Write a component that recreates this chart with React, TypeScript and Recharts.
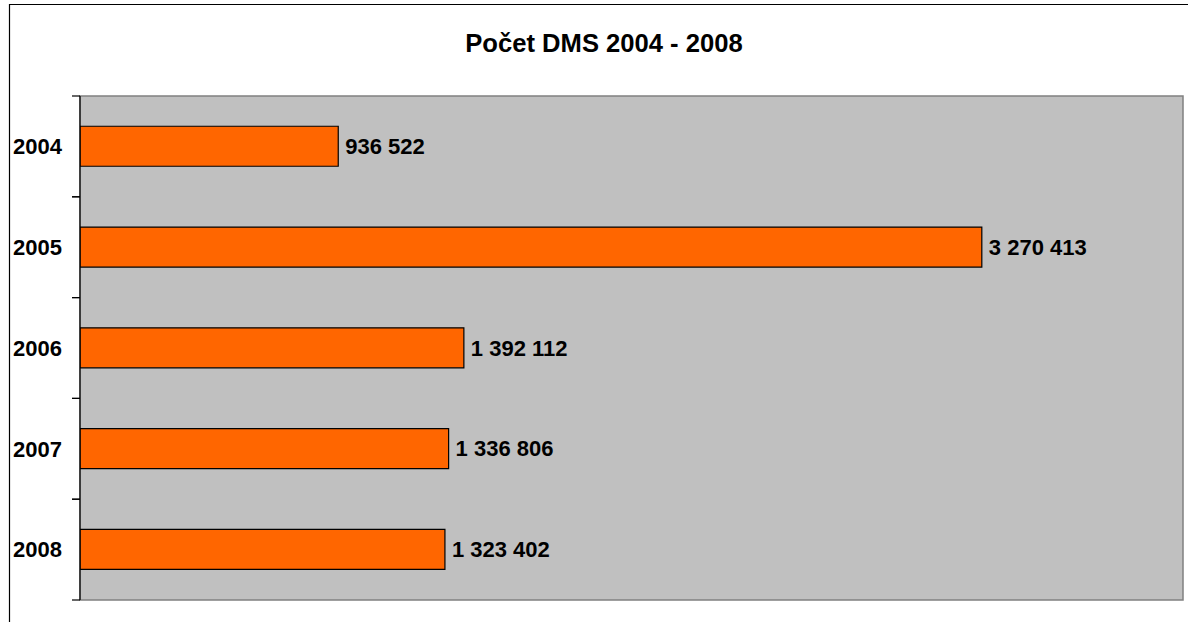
import React from 'react';
import { BarChart, Bar, XAxis, YAxis, ReferenceArea, LabelList } from 'recharts';

const title = 'Počet DMS 2004 - 2008';
const years = ['2004', '2005', '2006', '2007', '2008'];
const counts = [936522, 3270413, 1392112, 1336806, 1323402];
const xDomain = [0, 4000000];

const data = years.map((y, i) => ({ year: y, value: counts[i] }));

const fmt = (v: any) => String(v).replace(/\B(?=(\d{3})+(?!\d))/g, ' ');

const FONT = '"Liberation Sans", Arial, sans-serif';
const TICK_LEN = 8;
const LABEL_GAP = 18;

const CatTick = (props: any) => {
  const { x, y, payload } = props;
  const half = payload && typeof payload.offset === 'number' ? payload.offset : 0;
  return (
    <g>
      <line x1={x - TICK_LEN} y1={y - half} x2={x} y2={y - half} stroke="#000" strokeWidth={1.2} />
      <line x1={x - TICK_LEN} y1={y + half} x2={x} y2={y + half} stroke="#000" strokeWidth={1.2} />
      <text
        x={x - LABEL_GAP}
        y={y}
        dy="0.355em"
        textAnchor="end"
        fontFamily={FONT}
        fontWeight="bold"
        fontSize={22}
        fill="#000"
      >
        {payload.value}
      </text>
    </g>
  );
};

export default function App() {
  return (
    <div style={{ position: 'absolute', left: 0, top: 0, width: 1192, height: 622, overflow: 'hidden', background: '#fff' }}>
      <svg width={1192} height={622} style={{ position: 'absolute', left: 0, top: 0 }}>
        <line x1={9} y1={4.5} x2={1188} y2={4.5} stroke="#000" strokeWidth={1.2} />
        <line x1={9.5} y1={4} x2={9.5} y2={622} stroke="#000" strokeWidth={1.2} />
        <text x={604} y={52} textAnchor="middle" fontFamily={FONT} fontWeight="bold" fontSize={25.6} fill="#000">
          {title}
        </text>
      </svg>
      <div style={{ position: 'absolute', left: 0, top: 0 }}>
        <BarChart
          width={1192}
          height={622}
          data={data}
          layout="vertical"
          margin={{ top: 96, right: 9, bottom: 22, left: 0 }}
          barCategoryGap="30%"
        >
          <XAxis type="number" domain={xDomain} hide allowDataOverflow />
          <ReferenceArea
            x1={xDomain[0]}
            x2={xDomain[1]}
            fill="#C0C0C0"
            fillOpacity={1}
            stroke="#808080"
            strokeWidth={1.5}
          />
          <YAxis
            type="category"
            dataKey="year"
            width={80}
            tickSize={0}
            tickMargin={0}
            axisLine={{ stroke: '#000', strokeWidth: 1.2 }}
            tickLine={false}
            interval={0}
            tick={<CatTick />}
          />
          <Bar
            dataKey="value"
            fill="#FF6600"
            stroke="#000"
            strokeWidth={1.2}
            isAnimationActive={false}
          >
            <LabelList
              dataKey="value"
              position="right"
              offset={7}
              formatter={fmt}
              fill="#000"
              fontSize={22}
              fontWeight="bold"
              fontFamily={FONT}
            />
          </Bar>
        </BarChart>
      </div>
    </div>
  );
}
